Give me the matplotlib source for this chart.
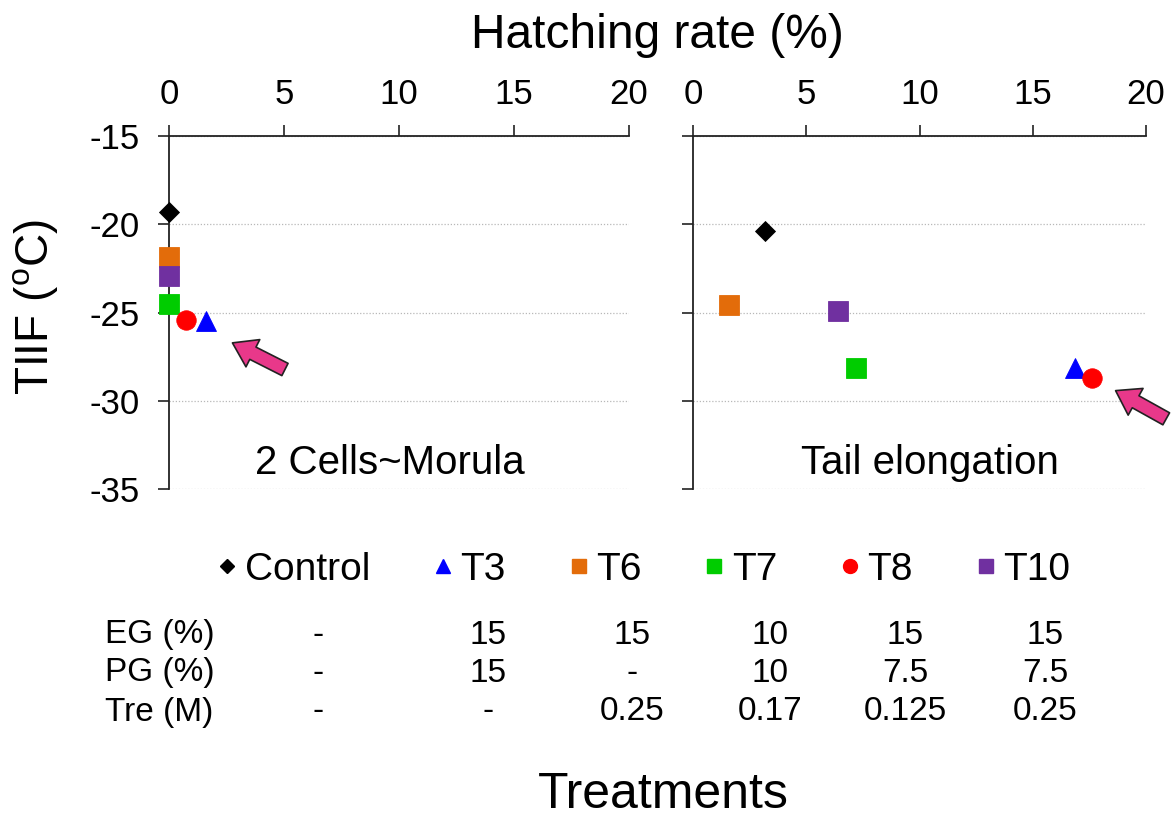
import matplotlib
matplotlib.use("Agg")
import matplotlib.pyplot as plt
from matplotlib.lines import Line2D

plt.rcParams['font.family'] = ['Liberation Sans', 'DejaVu Sans']
plt.rcParams['mathtext.fontset'] = 'custom'
plt.rcParams['mathtext.rm'] = 'Liberation Sans'
plt.rcParams['axes.unicode_minus'] = False

# ---------------- data ----------------
treatments = ['Control', 'T3', 'T6', 'T7', 'T8', 'T10']
markers = ['D', '^', 's', 's', 'o', 's']
colors = ['#000000', '#0000FF', '#E36C0A', '#00CC00', '#FF0000', '#7030A0']
marker_sizes = [10, 14, 14, 14, 14, 14]

morula_hatch = [0, 1.6, 0, 0, 0.75, 0]
morula_tiif = [-19.3, -25.5, -21.85, -24.5, -25.45, -22.95]
tail_hatch = [3.2, 16.85, 1.6, 7.2, 17.6, 6.4]
tail_tiif = [-20.4, -28.15, -24.6, -28.15, -28.7, -24.9]

panel_names = ['2 Cells~Morula', 'Tail elongation']
x_ticks = [0, 5, 10, 15, 20]
y_ticks = [-15, -20, -25, -30, -35]

row_labels = ['EG (%)', 'PG (%)', 'Tre (M)']
eg = ['-', '15', '15', '10', '15', '15']
pg = ['-', '15', '-', '10', '7.5', '7.5']
tre = ['-', '-', '0.25', '0.17', '0.125', '0.25']

# ---------------- figure ----------------
W, H = 1174, 818
fig = plt.figure(figsize=(W / 100, H / 100), dpi=100)

def fx(px):
    return px / W

def fy(py):
    return 1 - py / H

ax1 = fig.add_axes([fx(169), fy(489), fx(460), 353 / H])
ax2 = fig.add_axes([fx(693), fy(489), fx(453), 353 / H])

label_pos = [(0.48, 0.075), (0.523, 0.075)]
panels = [(ax1, morula_hatch, morula_tiif), (ax2, tail_hatch, tail_tiif)]
for i, (ax, xs, ys) in enumerate(panels):
    ax.set_xlim(0, 20)
    ax.set_ylim(-35, -15)
    for s in ['right', 'bottom']:
        ax.spines[s].set_visible(False)
    for s in ['top', 'left']:
        ax.spines[s].set_color('#222222')
        ax.spines[s].set_linewidth(1.3)
    ax.xaxis.tick_top()
    ax.set_xticks(x_ticks)
    ax.set_yticks(y_ticks)
    ax.tick_params(axis='both', direction='out', length=8, width=1.2,
                   color='#222222', labelsize=25)
    ax.tick_params(axis='y', pad=13)
    ax.tick_params(axis='x', pad=10)
    if i == 1:
        ax.tick_params(axis='y', labelleft=False)
    ax.yaxis.grid(True, linestyle=(0, (1, 1.5)), color='#b8b8b8', linewidth=0.9)
    ax.set_axisbelow(True)
    for t, m, c, ms, xv, yv in zip(treatments, markers, colors, marker_sizes, xs, ys):
        ax.plot([xv], [yv], linestyle='none', marker=m, color=c, markersize=ms,
                markeredgecolor=c, markeredgewidth=0.6, clip_on=False, zorder=4)
    ax.text(label_pos[i][0], label_pos[i][1], panel_names[i], transform=ax.transAxes,
            ha='center', va='center', fontsize=29)

arrow_props = dict(arrowstyle='simple,head_width=1.0,head_length=0.75,tail_width=0.45',
                   fc='#E8388A', ec='#222222', lw=1.2, mutation_scale=22)
a1 = ax1.annotate('', xy=(2.65, -26.65), xytext=(5.15, -28.3), arrowprops=arrow_props,
                  annotation_clip=False)
a2 = ax2.annotate('', xy=(18.55, -29.35), xytext=(21.0, -31.1), arrowprops=arrow_props,
                  annotation_clip=False)
a1.arrow_patch.set_clip_on(False)
a2.arrow_patch.set_clip_on(False)

# titles / labels
fig.text(fx(657), fy(35), 'Hatching rate (%)', ha='center', va='center', fontsize=34.5)
fig.text(fx(36), fy(307), 'TIIF ($^{\\mathrm{o}}$C)', ha='center', va='center',
         rotation=90, fontsize=33)
fig.text(fx(663), fy(795), 'Treatments', ha='center', va='center', fontsize=36)

# legend
leg_sizes = [7, 10, 10, 10, 10, 10]
handles = [Line2D([], [], linestyle='none', marker=m, color=c, markersize=s,
                  markeredgecolor=c)
           for m, c, s in zip(markers, colors, leg_sizes)]
fig.legend(handles, treatments, ncol=6, loc='center', bbox_to_anchor=(fx(643), fy(570)),
           frameon=False, handlelength=0.6, handletextpad=0.15, columnspacing=1.57,
           prop={'size': 28})

# table
col_x = [318, 488, 632, 770, 905, 1045]
row_y = [635, 673, 712]
for lab, vals, ry in zip(row_labels, [eg, pg, tre], row_y):
    fig.text(fx(105), fy(ry), lab, ha='left', va='center', fontsize=24)
    for v, cx in zip(vals, col_x):
        fig.text(fx(cx), fy(ry), v, ha='center', va='center', fontsize=24)

fig.savefig('out.png', dpi=100)
